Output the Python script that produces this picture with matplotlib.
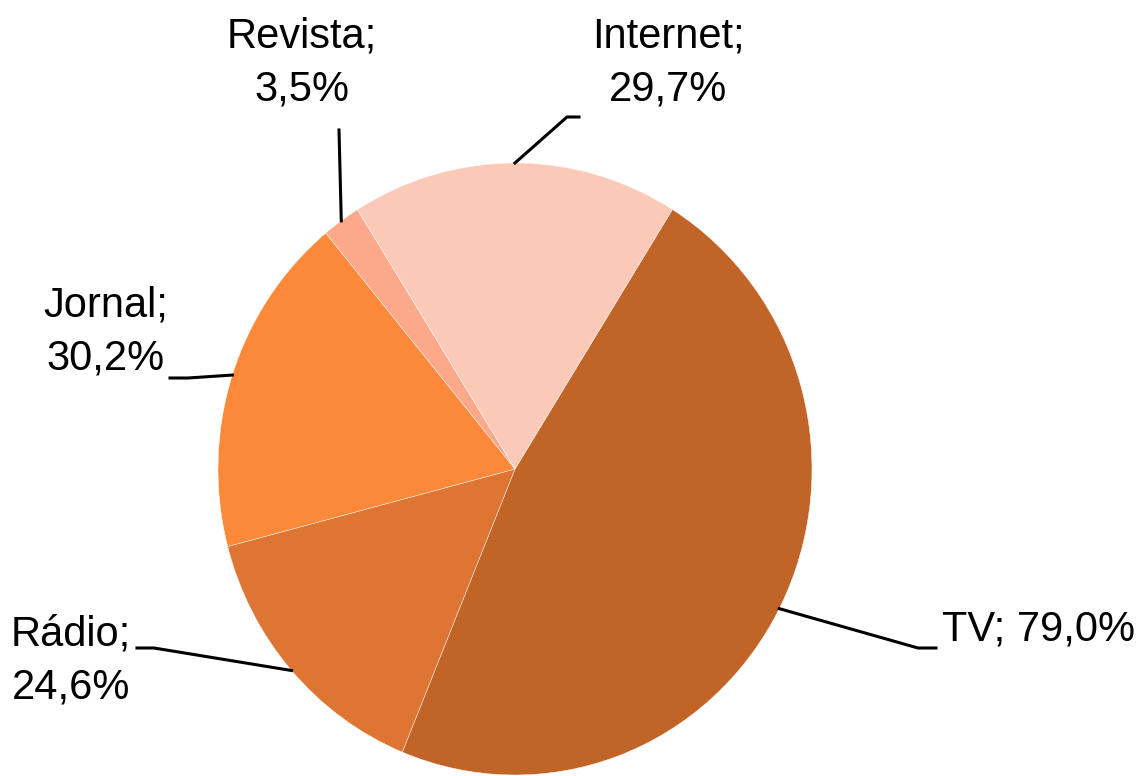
import numpy as np
import matplotlib.pyplot as plt
from matplotlib import font_manager

categorias = ['TV', 'Rádio', 'Jornal', 'Revista', 'Internet']
valores = [79.0, 24.6, 30.2, 3.5, 29.7]
rotulos = ['TV; 79,0%', 'Rádio;\n24,6%', 'Jornal;\n30,2%', 'Revista;\n3,5%', 'Internet;\n29,7%']
cores = ['#C06428', '#DF7532', '#FC8839', '#FBA98A', '#FBC9B7']

# narrow font like the original, if there is one
try:
    font_manager.findfont('Liberation Sans Narrow', fallback_to_default=False)
    fonte, tam = 'Liberation Sans Narrow', 35
except ValueError:
    fonte, tam = 'Liberation Sans', 30

W, H = 1138, 776
fig = plt.figure(figsize=(W / 100, H / 100), dpi=100)

# pie in its own axes (slightly taller than wide, like the reference)
ax = fig.add_axes([218 / W, 1 / H, 594 / W, 612 / H])
inicio = 58
ax.pie(valores, colors=cores, startangle=inicio, counterclock=False,
       wedgeprops=dict(edgecolor='white', linewidth=0.3))
ax.set_aspect('auto')
ax.set_xlim(-1, 1)
ax.set_ylim(-1, 1)

# overlay in pixel coordinates for labels and leader lines
ov = fig.add_axes([0, 0, 1, 1], facecolor='none')
ov.set_xlim(0, W)
ov.set_ylim(H, 0)
ov.axis('off')

total = sum(valores)
meio = inicio - 360 * (np.cumsum(valores) - np.array(valores) / 2) / total

# leader elbows / ends and label positions (pixels)
cotovelo = {'TV': [(918, 648), (936, 648)],
            'Rádio': [(154, 648), (137, 648)],
            'Jornal': [(188, 378), (170, 378)],
            'Revista': [(339, 130), (339, 130)],
            'Internet': [(567, 117), (579, 117)]}
pos_texto = {'TV': (942, 630, 'left'),
             'Rádio': (71, 661, 'center'),
             'Jornal': (106, 332, 'center'),
             'Revista': (302, 63, 'center'),
             'Internet': (668, 63, 'center')}

for cat, rot, ang in zip(categorias, rotulos, meio):
    a = np.deg2rad(ang)
    disp = ax.transData.transform((np.cos(a), np.sin(a)))
    x0, y0 = ov.transData.inverted().transform(disp)
    (x1, y1), (x2, y2) = cotovelo[cat]
    ov.plot([x0, x1, x2], [y0, y1, y2], color='black', lw=2.2)
    tx, ty, ha = pos_texto[cat]
    ov.text(tx, ty, rot, ha=ha, va='center', multialignment='center',
            fontsize=tam, family=fonte, linespacing=1.4)

fig.savefig('out.png', dpi=100)
